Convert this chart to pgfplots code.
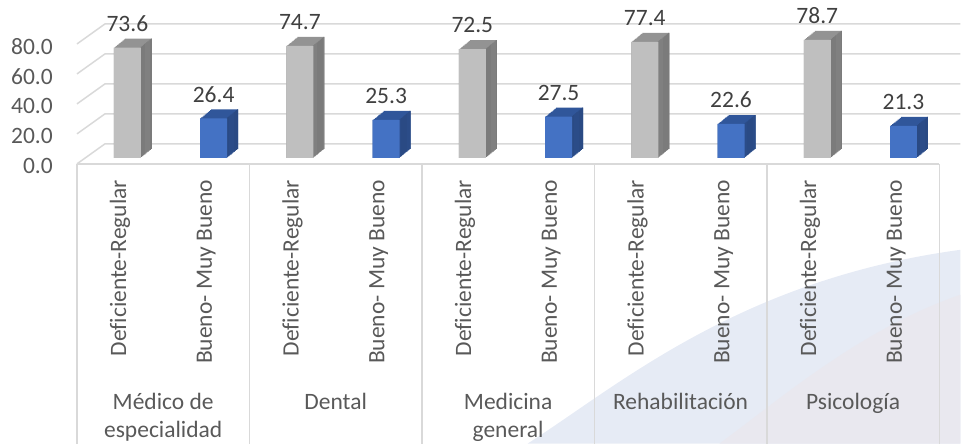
\documentclass[border=0pt]{standalone}
\usepackage{pgfplots}
\pgfplotsset{compat=1.18}
\usepackage{pgfplotstable}
\usepackage{fontspec}
\setmainfont{Carlito}[Ligatures=NoCommon]

\definecolor{grayfront}{HTML}{BFBFBF}
\definecolor{graytop}{HTML}{939393}
\definecolor{grayside}{HTML}{7B7B7B}
\definecolor{bluefront}{HTML}{4472C4}
\definecolor{bluetop}{HTML}{30569A}
\definecolor{blueside}{HTML}{2A4A84}
\definecolor{gridc}{HTML}{D9D9D9}
\definecolor{labelc}{HTML}{595959}
\definecolor{valc}{HTML}{404040}
\definecolor{wmA}{HTML}{E6EBF5}
\definecolor{wmB}{HTML}{E9E8EF}

% even x = Deficiente-Regular, odd x = Bueno- Muy Bueno
\pgfplotstableread{
x v
0 73.6
2 74.7
4 72.5
6 77.4
8 78.7
}\deficiente
\pgfplotstableread{
x v
1 26.4
3 25.3
5 27.5
7 22.6
9 21.3
}\bueno

% fake 3D depth: copies of the bar shifted up-right
\tikzset{
  extrude/.style={
    preaction={fill=#1, transform canvas={shift={(1.1pt,0.9pt)}}},
    preaction={fill=#1, transform canvas={shift={(2.2pt,1.8pt)}}},
    preaction={fill=#1, transform canvas={shift={(3.3pt,2.7pt)}}},
    preaction={fill=#1, transform canvas={shift={(4.4pt,3.6pt)}}},
    preaction={fill=#1, transform canvas={shift={(5.5pt,4.5pt)}}},
    preaction={fill=#1, transform canvas={shift={(6.6pt,5.4pt)}}},
    preaction={fill=#1, transform canvas={shift={(7.7pt,6.3pt)}}},
    preaction={fill=#1, transform canvas={shift={(8.8pt,7.2pt)}}},
    preaction={fill=#1, transform canvas={shift={(9.9pt,8.1pt)}}},
    preaction={fill=#1, transform canvas={shift={(11pt,9pt)}}},
  },
  txt/.style={font=\fontsize{23.5}{28}\selectfont, text=labelc},
}

\begin{document}
\begin{tikzpicture}
\begin{axis}[
  set layers,
  scale only axis, width=961pt, height=444pt,
  xmin=-1.4774, xmax=9.6582, ymin=-190.667, ymax=105.333,
  clip=false,
  axis line style={draw=none}, major tick length=0pt, tick style={draw=none},
  ytick={-5.5,14.5,34.5,54.5,74.5},
  yticklabels={0.0,20.0,40.0,60.0,80.0},
  yticklabel style={anchor=east, inner sep=0pt, xshift=53pt},
  xtick={-0.085,0.915,1.915,2.915,3.915,4.915,5.915,6.915,7.915,8.915},
  xticklabels={Deficiente-Regular,Bueno- Muy Bueno,Deficiente-Regular,Bueno- Muy Bueno,
    Deficiente-Regular,Bueno- Muy Bueno,Deficiente-Regular,Bueno- Muy Bueno,
    Deficiente-Regular,Bueno- Muy Bueno},
  xticklabel style={yshift=264pt, rotate=90, anchor=east, inner sep=0pt},
  ticklabel style={txt},
  /pgf/number format/assume math mode=true,
]

% watermark swoosh in the background
\begin{pgfonlayer}{axis background}
\fill[wmA] (rel axis cs:0.5494,0) .. controls (rel axis cs:0.6452,0.1329) and (rel axis cs:0.7700,0.3694) .. (rel axis cs:1,0.4369) -- (rel axis cs:1,0) -- cycle;
\fill[wmB] (rel axis cs:0.7492,0) .. controls (rel axis cs:0.8117,0.0991) and (rel axis cs:0.8949,0.2568) .. (rel axis cs:1,0.3356) -- (rel axis cs:1,0) -- cycle;
\end{pgfonlayer}

% back wall grid with the left side wall
\pgfplotsinvokeforeach{0,20,40,60,80}{
  \draw[gridc, line width=1.5pt] (axis cs:-0.585,{#1-4}) -- (axis cs:-0.2607,{#1+9.333}) -- (axis cs:9.6582,{#1+9.333});
}
% floor front edge and group separators
\draw[gridc, line width=1.5pt] (axis cs:-0.585,-4) -- (axis cs:9.415,-4);
\pgfplotsinvokeforeach{-0.585,1.415,3.415,5.415,7.415,9.415}{
  \draw[gridc, line width=1.5pt] (axis cs:#1,-4) -- (axis cs:#1,-190.667);
}

% Deficiente-Regular bars
\addplot[ybar, bar width=27pt, bar shift=0pt, draw=none, fill=graytop, extrude=graytop]
  table[x=x, y=v] {\deficiente};
\addplot[ybar, bar width=1.1pt, bar shift=12.95pt, draw=none, fill=grayside, extrude=grayside]
  table[x=x, y=v] {\deficiente};
\addplot[ybar, bar width=27pt, bar shift=0pt, draw=none, fill=grayfront,
  point meta=y, nodes near coords={\pgfmathprintnumber[fixed,fixed zerofill,precision=1]{\pgfplotspointmeta}},
  every node near coord/.append style={anchor=center, yshift=24pt, font=\fontsize{23.5}{28}\selectfont, text=valc}]
  table[x=x, y=v] {\deficiente};

% Bueno- Muy Bueno bars
\addplot[ybar, bar width=27pt, bar shift=0pt, draw=none, fill=bluetop, extrude=bluetop]
  table[x=x, y=v] {\bueno};
\addplot[ybar, bar width=1.1pt, bar shift=12.95pt, draw=none, fill=blueside, extrude=blueside]
  table[x=x, y=v] {\bueno};
\addplot[ybar, bar width=27pt, bar shift=0pt, draw=none, fill=bluefront,
  point meta=y, nodes near coords={\pgfmathprintnumber[fixed,fixed zerofill,precision=1]{\pgfplotspointmeta}},
  every node near coord/.append style={anchor=center, yshift=24pt, font=\fontsize{23.5}{28}\selectfont, text=valc}]
  table[x=x, y=v] {\bueno};

% group names
\node[txt, anchor=base] at (axis cs:0.415,-168) {Médico de};
\node[txt, anchor=base] at (axis cs:0.415,-186.67) {especialidad};
\node[txt, anchor=base] at (axis cs:2.415,-168) {Dental};
\node[txt, anchor=base] at (axis cs:4.415,-168) {Medicina};
\node[txt, anchor=base] at (axis cs:4.415,-186.67) {general};
\node[txt, anchor=base] at (axis cs:6.415,-168) {Rehabilitación};
\node[txt, anchor=base] at (axis cs:8.415,-168) {Psicología};
\end{axis}
\end{tikzpicture}
\end{document}
